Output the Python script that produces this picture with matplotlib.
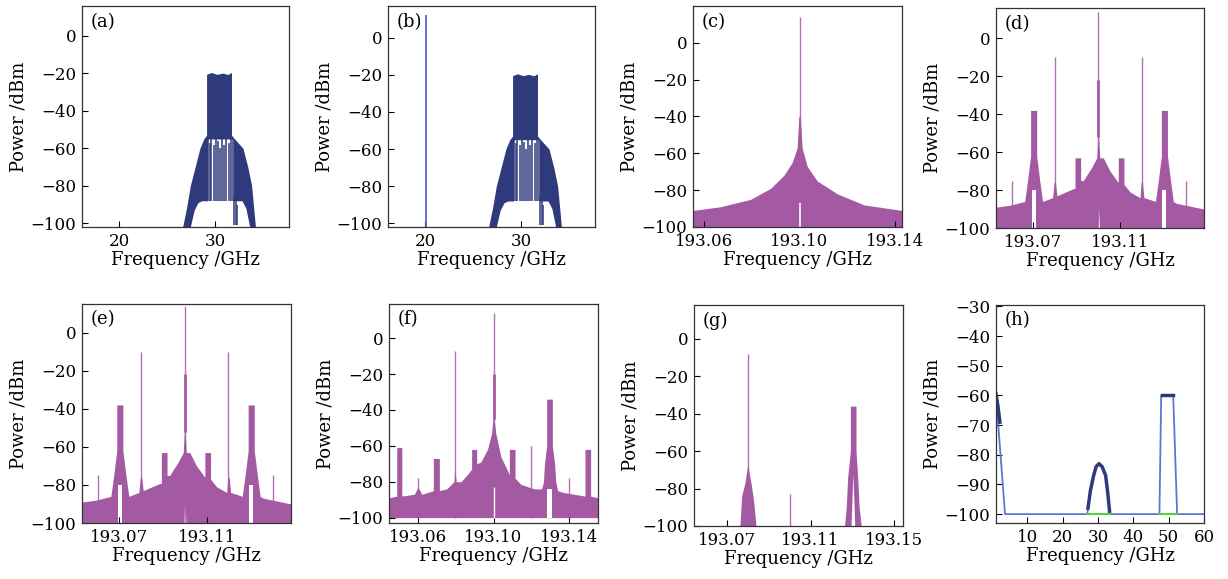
import numpy as np
import matplotlib.pyplot as plt
from matplotlib.ticker import FormatStrFormatter

W, H = 1228, 579
NAVY = '#2f3a7c'
BLUE = '#4556d8'
PURPLE = '#a35aa3'
LIGHT = '#5f75d6'
GREEN = '#55cc44'
WHITE = 'white'

# ---- (a) / (b): RF spectrum around 30 GHz (GHz, dBm)
ab_env_f = [26.6, 27.0, 27.4, 27.9, 28.4, 28.8, 29.1, 29.1, 29.6, 30.2, 30.8, 31.3, 31.7, 31.7, 32.2, 32.9, 33.4, 33.8, 34.2]
ab_env_p = [-102, -92, -80, -70, -60, -55, -53, -20.5, -19.5, -20.5, -19.8, -20.6, -19.5, -53, -56, -60, -70, -80, -102]
ab_hole_f = [27.4, 27.8, 28.2, 28.6, 29.2, 29.2, 31.9, 31.9, 32.8, 33.2, 33.6]
ab_hole_p = [-102, -93, -89, -88, -88, -55, -55, -88, -88, -92, -102]
ab_line_f = [29.25, 29.45, 29.6, 29.9, 30.05, 30.3, 30.45, 30.7, 30.9, 31.15, 31.4, 31.6, 31.85]
ab_line_top = [-55, -57, -52, -58, -50, -56, -60, -53, -58, -55, -57, -52, -55]
ab_break_f = [32.0, 32.15, 32.3]
ab_break_top = [-86, -88, -90]
b_carrier_f = 20.05
b_carrier_p = 12

# ---- (c): optical carrier (THz axis labelled GHz)
c_env_f = [193.0554, 193.0669, 193.0795, 193.0879, 193.0934, 193.0969, 193.0990, 193.0997, 193.1003,
           193.1011, 193.1032, 193.1074, 193.1158, 193.1270, 193.1429]
c_env_p = [-91, -89, -85, -79, -72, -65, -57, -40, -40, -57, -67, -75, -82, -88, -91]
c_spike_f = [193.10]
c_spike_p = [14]
c_notch = [(193.10, -87)]

# ---- (d) / (e): modulated optical spectrum
de_env_f = [193.0530, 193.0594, 193.0662, 193.0675, 193.0689, 193.0689, 193.0717, 193.0717, 193.0731, 193.0744,
            193.0790, 193.0797, 193.0803, 193.0810, 193.0870, 193.0893, 193.0893, 193.0919, 193.0919,
            193.0931, 193.0970, 193.0993, 193.0998, 193.1002, 193.1007, 193.1023, 193.1054, 193.1092,
            193.1092, 193.1118, 193.1118, 193.1146, 193.1192, 193.1197, 193.1203, 193.1210, 193.1238,
            193.1263, 193.1276, 193.1290, 193.1290, 193.1318, 193.1318, 193.1332, 193.1345, 193.1360, 193.1486]
de_env_p = [-89, -88, -86, -75, -62, -38, -38, -62, -75, -86,
            -84, -76, -76, -83, -80, -79, -63, -63, -75,
            -75, -68, -63, -52, -52, -63, -63, -70, -76,
            -63, -63, -77, -81, -84, -76, -76, -84, -85,
            -86, -75, -62, -38, -38, -62, -75, -86, -87, -90]
de_spike_f = [193.0605, 193.0800, 193.1000, 193.1200, 193.1403]
de_spike_p = [-75, -10, 14, -10, -75]
de_notch_blocks = [(193.0694, 193.0712), (193.1295, 193.1313)]
de_notch_top = -80
de_center_notch = -87

# ---- (f)
f_env_f = [193.0446, 193.0487, 193.0487, 193.0514, 193.0514, 193.0580, 193.0600, 193.0620, 193.0681, 193.0681,
           193.0713, 193.0713, 193.0752, 193.0790, 193.0796, 193.0802, 193.0827, 193.0862, 193.0884, 193.0884,
           193.0911, 193.0911, 193.0933, 193.0968, 193.0990, 193.0997, 193.1003, 193.1012, 193.1039, 193.1084,
           193.1084, 193.1114, 193.1114, 193.1145, 193.1216, 193.1255, 193.1265, 193.1270, 193.1282, 193.1282,
           193.1312, 193.1312, 193.1324, 193.1330, 193.1340, 193.1370, 193.1485, 193.1485, 193.1515, 193.1515, 193.1554]
f_env_p = [-89, -88, -61, -61, -88, -87, -83, -87, -85, -67,
           -67, -85, -84, -80, -73, -80, -80, -76, -73, -62,
           -62, -70, -69, -62, -53, -45, -45, -53, -66, -76,
           -62, -62, -78, -81.5, -84, -84, -80, -70, -60, -34,
           -34, -60, -70, -80, -85, -86, -88, -62, -62, -88, -89]
f_spike_f = [193.0600, 193.0796, 193.1000, 193.1199, 193.1402]
f_spike_p = [-78, -7, 14, -60, -78]
f_notch_blocks = [(193.1285, 193.1308)]
f_notch_top = -84
f_center_notch = -83

# ---- (g)
g_hump_f = [193.0762, 193.0770, 193.0786, 193.0799, 193.0818, 193.0829, 193.0839]
g_hump_p = [-100, -84, -77, -67, -79, -88, -100]
g_side_f = [193.1263, 193.1271, 193.1278, 193.1291, 193.1291, 193.1318, 193.1318, 193.1326, 193.1333, 193.1343]
g_side_p = [-100, -90, -74, -60, -36, -36, -60, -74, -90, -100]
g_notch_f = [193.1294, 193.1303, 193.1312]
g_notch_p = [-100, -72, -100]
g_spike_f = [193.0799, 193.1002]
g_spike_p = [-8, -83]

# ---- (h): detected RF spectrum
h_filter_f = [1.2, 3.75, 27.0, 27.9, 28.8, 29.5, 30.3, 31.2, 32.2, 32.8, 33.4, 47.4, 47.9, 51.3, 52.4, 60]
h_filter_p = [-60, -100, -100, -92, -87, -84, -83, -84, -87, -93, -100, -100, -60, -60, -100, -100]
h_left_f = [1.2, 1.8, 2.3]
h_left_p = [-59.5, -64, -69]
h_hump_f = [27.2, 27.9, 28.8, 29.5, 30.3, 31.2, 32.2, 32.8, 33.3]
h_hump_p = [-98, -92, -87, -84, -83, -84, -87, -93, -99]
h_top_f = [48.1, 51.1]
h_top_p = [-60, -60]
h_green = [(27.0, 33.4), (47.4, 52.4)]

plt.rcParams['font.family'] = ['DejaVu Serif']
plt.rcParams['mathtext.fontset'] = 'dejavuserif'

fig = plt.figure(figsize=(W / 100, H / 100), dpi=100)


def make_ax(l, t, r, b, letter):
    ax = fig.add_axes([l / W, 1 - b / H, (r - l) / W, (b - t) / H])
    ax.tick_params(direction='in', length=4, width=0.8, labelsize=12, pad=4)
    for s in ax.spines.values():
        s.set_linewidth(0.9)
        s.set_color('#333333')
    ax.set_xlabel('Frequency /GHz', fontsize=13, labelpad=1)
    ax.set_ylabel('Power /dBm', fontsize=13, labelpad=2)
    ax.text(0.04, 0.97, letter, transform=ax.transAxes, fontsize=13, va='top', ha='left')
    return ax


def rf_panel(ax):
    ax.fill_between(ab_env_f, -102, ab_env_p, color=NAVY, lw=0)
    ax.fill_between(ab_hole_f, -102, ab_hole_p, color=WHITE, lw=0)
    ax.vlines(ab_line_f, -88, ab_line_top, color=NAVY, lw=1.1)
    ax.vlines(ab_break_f, -101, ab_break_top, color=NAVY, lw=1.1)
    ax.set_xlim(16.1, 37.7)
    ax.set_xticks([20, 30])
    ax.set_yticks(np.arange(-100, 1, 20))


def opt_panel(ax, env_f, env_p, spike_f, spike_p, bottom):
    ax.fill_between(env_f, bottom, env_p, color=PURPLE, lw=0)
    ax.vlines(spike_f, bottom, spike_p, color=PURPLE, lw=1.0, alpha=0.85)
    ax.set_yticks(np.arange(-100, 1, 20))
    ax.xaxis.set_major_formatter(FormatStrFormatter('%.2f'))


# (a)
ax = make_ax(82, 6, 289, 227, '(a)')
rf_panel(ax)
ax.set_ylim(-102, 16)

# (b)
ax = make_ax(388, 6, 595, 227, '(b)')
rf_panel(ax)
ax.vlines(b_carrier_f, -102, b_carrier_p, color=BLUE, lw=1.2)
ax.set_ylim(-102, 17)

# (c)
ax = make_ax(693, 6, 902, 227, '(c)')
opt_panel(ax, c_env_f, c_env_p, c_spike_f, c_spike_p, -100)
for f0, p0 in c_notch:
    ax.vlines(f0, -100, p0, color=WHITE, lw=1.2)
ax.set_xlim(193.0554, 193.1429)
ax.set_ylim(-100, 20)
ax.set_xticks([193.06, 193.10, 193.14])

# (d) and (e)
for box, letter, ylim in [((996, 8, 1204, 228), '(d)', (-100, 16)), ((82, 304, 291, 523), '(e)', (-100, 15))]:
    ax = make_ax(*box, letter)
    opt_panel(ax, de_env_f, de_env_p, de_spike_f, de_spike_p, -100)
    ax.vlines(193.10, -52, -22, color=PURPLE, lw=2)
    for f0, f1 in de_notch_blocks:
        ax.fill_between([f0, f1], -100, de_notch_top, color=WHITE, lw=0)
    ax.fill_between([193.0996, 193.1000, 193.1006], -100, [-100, de_center_notch, -100], color=WHITE, lw=0)
    ax.set_xlim(193.053, 193.1486)
    ax.set_ylim(*ylim)
    ax.set_xticks([193.07, 193.11])

# (f)
ax = make_ax(389, 304, 598, 523, '(f)')
opt_panel(ax, f_env_f, f_env_p, f_spike_f, f_spike_p, -100)
ax.vlines(193.10, -45, -20, color=PURPLE, lw=2)
for f0, f1 in f_notch_blocks:
    ax.fill_between([f0, f1], -100, f_notch_top, color=WHITE, lw=0)
ax.vlines(193.1000, -100, f_center_notch, color=WHITE, lw=1.0)
ax.set_xlim(193.0446, 193.1554)
ax.set_ylim(-103, 19)
ax.set_xticks([193.06, 193.10, 193.14])

# (g)
ax = make_ax(694, 305, 903, 526, '(g)')
ax.fill_between(g_hump_f, -100, g_hump_p, color=PURPLE, lw=0)
ax.fill_between(g_side_f, -100, g_side_p, color=PURPLE, lw=0)
ax.fill_between(g_notch_f, -100, g_notch_p, color=WHITE, lw=0)
ax.vlines(g_spike_f, -100, g_spike_p, color=PURPLE, lw=1.0, alpha=0.85)
ax.set_yticks(np.arange(-100, 1, 20))
ax.xaxis.set_major_formatter(FormatStrFormatter('%.2f'))
ax.set_xlim(193.0542, 193.1543)
ax.set_ylim(-100, 18)
ax.set_xticks([193.07, 193.11, 193.15])

# (h)
ax = make_ax(996, 305, 1204, 523, '(h)')
ax.plot(h_filter_f, h_filter_p, color=LIGHT, lw=1.3)
for f0, f1 in h_green:
    ax.plot([f0, f1], [-100, -100], color=GREEN, lw=1.5)
ax.plot(h_left_f, h_left_p, color=NAVY, lw=2.5)
ax.plot(h_hump_f, h_hump_p, color=NAVY, lw=2.5)
ax.plot(h_top_f, h_top_p, color=NAVY, lw=2.5)
ax.set_xlim(1.2, 60)
ax.set_ylim(-103, -29.5)
ax.set_xticks([10, 20, 30, 40, 50, 60])
ax.set_yticks(np.arange(-100, -29, 10))

fig.savefig('out.png', dpi=100)
